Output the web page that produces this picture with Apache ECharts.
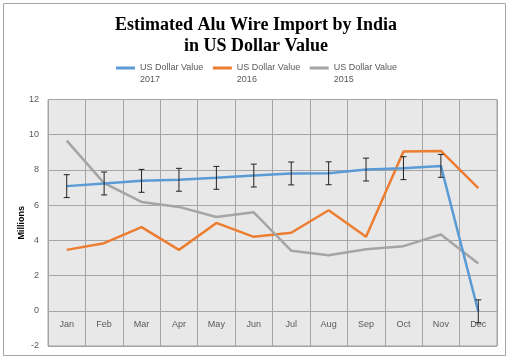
<!DOCTYPE html>
<html>
<head>
<meta charset="utf-8">
<script src="https://cdn.jsdelivr.net/npm/echarts@6/dist/echarts.min.js"></script>
<style>html,body{margin:0;padding:0;background:#fff;}#c{width:512px;height:360px;}</style>
</head>
<body>
<div id="c"></div>
<script>
var categories = ['Jan','Feb','Mar','Apr','May','Jun','Jul','Aug','Sep','Oct','Nov','Dec'];
var v2017 = [7.08, 7.23, 7.38, 7.44, 7.55, 7.68, 7.8, 7.81, 8.02, 8.1, 8.23, -0.03];
var v2016 = [3.46, 3.84, 4.75, 3.46, 4.99, 4.2, 4.43, 5.71, 4.2, 9.04, 9.08, 6.97];
var v2015 = [9.66, 7.25, 6.18, 5.9, 5.33, 5.59, 3.41, 3.15, 3.49, 3.67, 4.33, 2.69];
var err2017 = 0.65;
var yTicks = [-2, 0, 2, 4, 6, 8, 10, 12];

var gridTop = 99.5, gridBottom = 14, H = 360;
var plotH = H - gridTop - gridBottom;
var zeroOffset = -plotH * (0 - yTicks[0]) / (yTicks[yTicks.length - 1] - yTicks[0]);

var chart = echarts.init(document.getElementById('c'));
var font = 'Liberation Sans';
chart.setOption({
  animation: false,
  backgroundColor: '#ffffff',
  title: {
    text: 'Estimated Alu Wire Import by India\nin US Dollar Value',
    left: 'center', top: 10,
    textStyle: {fontFamily: 'Liberation Serif', fontWeight: 'bold', fontSize: 18, lineHeight: 21, color: '#000'}
  },
  legend: {
    left: 116, top: 50, padding: 0,
    itemWidth: 19, itemHeight: 3, itemGap: 9.5,
    icon: 'rect',
    data: ['2017', '2016', '2015'],
    formatter: function (n) { return ' \nUS Dollar Value\n' + n; },
    textStyle: {fontFamily: font, fontSize: 9, color: '#595959', lineHeight: 12}
  },
  graphic: [{
    type: 'rect', shape: {x: 3.5, y: 3.5, width: 502, height: 352},
    style: {fill: 'none', stroke: '#a6a6a6', lineWidth: 1}, silent: true
  }],
  grid: {left: 48, right: 15, top: gridTop, bottom: gridBottom, show: true, backgroundColor: '#e8e8e8', borderColor: '#a5a5a5', borderWidth: 1},
  xAxis: {
    type: 'category', data: categories, boundaryGap: true,
    offset: zeroOffset,
    axisLine: {show: true, onZero: false, lineStyle: {color: '#a5a5a5'}},
    axisTick: {show: false},
    axisLabel: {fontFamily: font, fontSize: 9, color: '#595959', margin: 9},
    splitLine: {show: true, lineStyle: {color: '#a5a5a5', width: 1}}
  },
  yAxis: {
    type: 'value', min: yTicks[0], max: yTicks[yTicks.length - 1], interval: 2,
    name: 'Millions', nameLocation: 'middle', nameRotate: 90, nameGap: 22, nameMoveOverlap: false,
    nameTextStyle: {fontFamily: font, fontSize: 9, fontWeight: 'bold', color: '#000'},
    axisLine: {show: false}, axisTick: {show: false},
    axisLabel: {fontFamily: font, fontSize: 9, color: '#595959', margin: 9},
    splitLine: {show: true, lineStyle: {color: '#a5a5a5', width: 1}}
  },
  series: [
    {name: '2017', type: 'line', data: v2017, symbol: 'none', lineStyle: {width: 2.5, color: '#5b9bd5'}, itemStyle: {color: '#5b9bd5'}, z: 3},
    {name: '2016', type: 'line', data: v2016, symbol: 'none', lineStyle: {width: 2.5, color: '#ed7d31'}, itemStyle: {color: '#ed7d31'}, z: 2},
    {name: '2015', type: 'line', data: v2015, symbol: 'none', lineStyle: {width: 2.5, color: '#a5a5a5'}, itemStyle: {color: '#a5a5a5'}, z: 2},
    {
      name: 'err', type: 'custom', z: 4,
      data: v2017.map(function (v, i) { return [i, v - err2017, v + err2017]; }),
      encode: {x: 0, y: [1, 2]},
      renderItem: function (params, api) {
        var lo = api.coord([api.value(0), api.value(1)]);
        var hi = api.coord([api.value(0), api.value(2)]);
        var w = 3;
        var st = {stroke: '#222', lineWidth: 1, fill: 'none'};
        return {type: 'group', children: [
          {type: 'line', shape: {x1: lo[0], y1: lo[1], x2: hi[0], y2: hi[1]}, style: st},
          {type: 'line', shape: {x1: lo[0] - w, y1: lo[1], x2: lo[0] + w, y2: lo[1]}, style: st},
          {type: 'line', shape: {x1: hi[0] - w, y1: hi[1], x2: hi[0] + w, y2: hi[1]}, style: st}
        ]};
      }
    }
  ]
});
</script>
</body>
</html>
